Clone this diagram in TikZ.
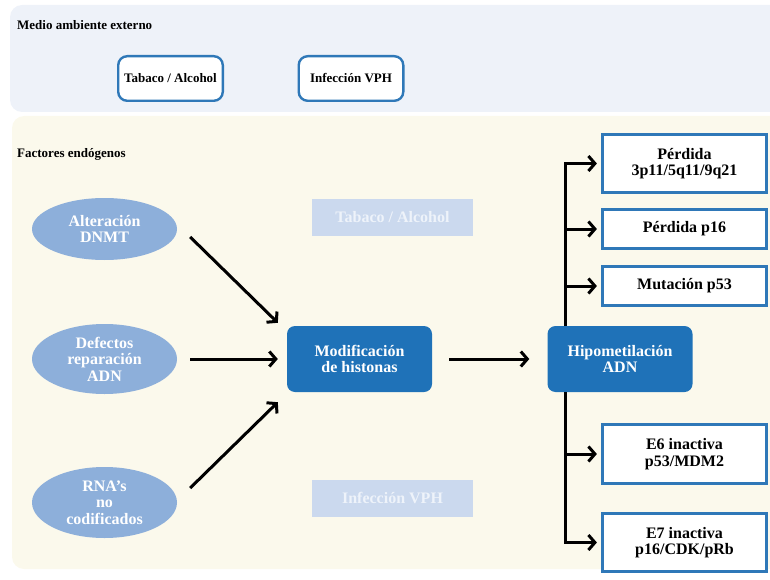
\documentclass[tikz,border=0pt]{standalone}
\usepackage{fontspec}
\setmainfont{Liberation Serif}
\usetikzlibrary{shapes.geometric,arrows.meta}

\definecolor{panelsky}{HTML}{EEF2F9}
\definecolor{panelcream}{HTML}{FBF9EC}
\definecolor{rimblue}{HTML}{2F78B8}
\definecolor{ovalblue}{HTML}{8DAFDA}
\definecolor{coreblue}{HTML}{1F72B8}
\definecolor{ghostblue}{HTML}{CBD9EE}
\definecolor{ghosttext}{HTML}{EEF3FA}

\begin{document}
\begin{tikzpicture}[
  x=1pt, y=-1pt,
  % 画布 770×580，y 轴朝下，坐标与参考图像素一一对应
  line cap=butt, line join=miter,
  every node/.style={inner sep=0pt, align=center, font=\bfseries\fontsize{16pt}{16.5pt}\selectfont},
  envbox/.style={draw=rimblue, line width=2.4pt, fill=white, rounded corners=9pt,
    minimum width=104.6pt, minimum height=44.6pt, font=\bfseries\fontsize{13pt}{14pt}\selectfont},
  factor/.style={ellipse, fill=ovalblue, text=white, minimum width=145pt},
  core/.style={fill=coreblue, text=white, rounded corners=8pt, minimum width=145pt, minimum height=66pt},
  ghost/.style={fill=ghostblue, text=ghosttext, minimum width=161pt, minimum height=37pt},
  outbox/.style={draw=rimblue, line width=3.2pt, fill=white, minimum width=164pt},
  flow/.style={line width=3pt, -{Straight Barb[length=6.5pt,width=15pt]}},
  caption/.style={anchor=base west, font=\bfseries\fontsize{13pt}{14pt}\selectfont}
]
  \useasboundingbox (0,0) rectangle (770,580);
  % ---- 底板：外部环境 / 内源因素 ----
  \fill[panelsky, rounded corners=12pt] (10,5) rectangle (800,112);
  \fill[panelcream, rounded corners=12pt] (12,116) rectangle (800,569);
  \node[caption] (medio) at (17,30) {Medio ambiente externo};
  \node[caption] (endo) at (17,158) {Factores endógenos};
  % ---- 外部因素 ----
  \node[envbox] (tabaco) at (170.5,78.5) {Tabaco / Alcohol};
  \node[envbox] (vph) at (351,78.5) {Infección VPH};
  % ---- 内源因素（椭圆） ----
  \node[factor, minimum height=62pt] (alt) at (104.5,229) {Alteración\\DNMT};
  \node[factor, minimum height=70pt] (def) at (104.5,359) {Defectos\\reparación\\ADN};
  \node[factor, minimum height=71pt] (rna) at (104.5,502.5) {RNA’s\\no\\codificados};
  % ---- 淡色占位框 ----
  \node[ghost] (ghostTab) at (392.5,217) {Tabaco / Alcohol};
  \node[ghost] (ghostVph) at (392.5,498) {Infección VPH};
  % ---- 中间两个深色框 ----
  \node[core] (mod) at (359.5,359) {Modificación\\de histonas};
  \node[core] (hipo) at (620,359) {Hipometilación\\ADN};
  % ---- 右侧结果框 ----
  \node[outbox, minimum height=58pt] (out1) at (684.5,163.5) {Pérdida\\3p11/5q11/9q21};
  \node[outbox, minimum height=39pt] (out2) at (684.5,229) {Pérdida p16};
  \node[outbox, minimum height=39pt] (out3) at (684.5,286) {Mutación p53};
  \node[outbox, minimum height=59pt] (out4) at (684.5,454) {E6 inactiva\\p53/MDM2};
  \node[outbox, minimum height=58pt] (out5) at (684.5,542.5) {E7 inactiva\\p16/CDK/pRb};
  % ---- 箭头 ----
  \draw[flow] ([shift={(13,8)}]alt.east) -- ([shift={(-9,-3)}]mod.north west);
  \draw[flow] ([xshift=13pt]def.east) -- ([xshift=-9pt]mod.west);
  \draw[flow] ([shift={(13,-14.5)}]rna.east) -- ([shift={(-9,10)}]mod.south west);
  \draw[flow, shorten <=17pt, shorten >=18pt] (mod.east) -- (hipo.west);
  \coordinate (trunkTop) at ([xshift=18pt]hipo.north west);
  \coordinate (trunkBot) at ([xshift=18pt]hipo.south west);
  \draw[flow, shorten >=4pt] (trunkTop) |- (out1.west);
  \draw[flow, shorten >=4pt] (trunkBot) |- (out5.west);
  \foreach \o in {out2,out3,out4}
    \draw[flow, shorten >=4pt] (trunkTop |- \o.west) -- (\o.west);
\end{tikzpicture}
\end{document}
